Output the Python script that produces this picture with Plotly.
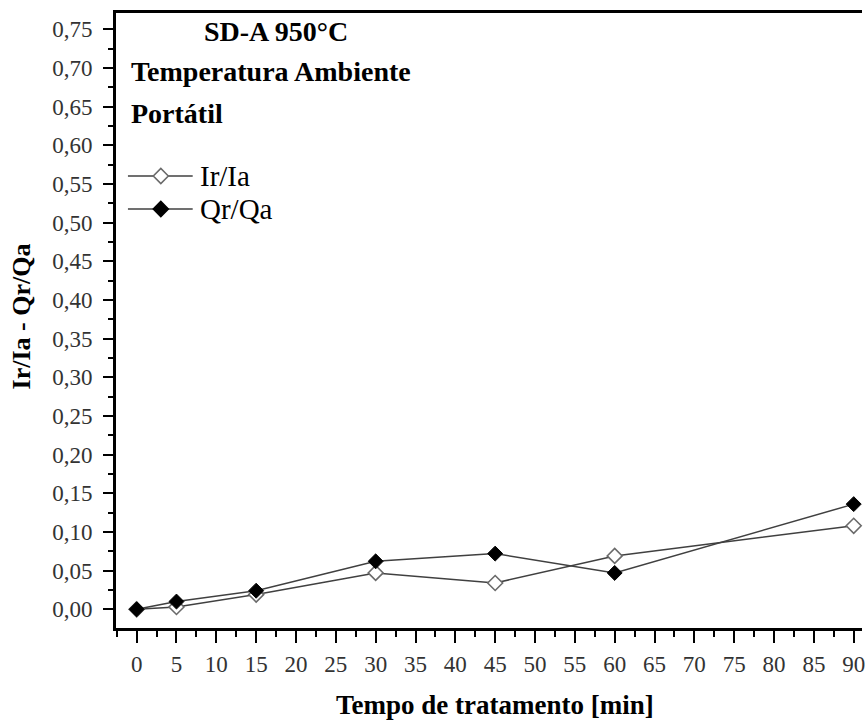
import plotly.graph_objects as go

# Treatment time [min] and measured ratios
tempo = [0, 5, 15, 30, 45, 60, 90]
ir_ia = [0.000, 0.003, 0.019, 0.047, 0.034, 0.069, 0.108]
qr_qa = [0.000, 0.010, 0.024, 0.062, 0.072, 0.047, 0.136]

x_ticks = [0, 5, 10, 15, 20, 25, 30, 35, 40, 45, 50, 55, 60, 65, 70, 75, 80, 85, 90]
y_ticks = [0.00, 0.05, 0.10, 0.15, 0.20, 0.25, 0.30, 0.35,
           0.40, 0.45, 0.50, 0.55, 0.60, 0.65, 0.70, 0.75]
y_tick_labels = ["0,00", "0,05", "0,10", "0,15", "0,20", "0,25", "0,30", "0,35",
                 "0,40", "0,45", "0,50", "0,55", "0,60", "0,65", "0,70", "0,75"]

W, H = 865, 722
L, R, T, B = 116, 0, 13, 94
PW, PH = W - L - R, H - T - B

FONT = "Liberation Serif"
LINE_COLOR = "#404040"


def xp(px):
    return (px - L) / PW


def yp(py):
    return (H - B - py) / PH


fig = go.Figure()

fig.add_trace(go.Scatter(
    x=tempo, y=ir_ia, mode="lines+markers", name="Ir/Ia",
    line=dict(color=LINE_COLOR, width=1.5),
    marker=dict(symbol="diamond", size=11.5, color="white",
                line=dict(color="#6a6a6a", width=1.6)),
    cliponaxis=False, showlegend=False,
))
fig.add_trace(go.Scatter(
    x=tempo, y=qr_qa, mode="lines+markers", name="Qr/Qa",
    line=dict(color=LINE_COLOR, width=1.5),
    marker=dict(symbol="diamond", size=11.5, color="black",
                line=dict(color="black", width=1)),
    cliponaxis=False, showlegend=False,
))

annotations = []


def add_text(text, px, py, size, xanchor="left", angle=0):
    annotations.append(dict(
        text=text, x=xp(px), y=yp(py), xref="paper", yref="paper",
        xanchor=xanchor, yanchor="middle", showarrow=False, textangle=angle,
        font=dict(family=FONT, size=size, color="black"),
    ))


add_text("<b>SD-A 950°C</b>", 277, 32, 28, xanchor="center")
add_text("<b>Temperatura Ambiente</b>", 129, 71, 28)
add_text("<b>Portátil</b>", 129, 114, 28)
add_text("<b>Tempo de tratamento [min]</b>", 497, 705, 27, xanchor="center")
add_text("<b>Ir/Ia - Qr/Qa</b>", 21, 316, 26, xanchor="center", angle=-90)

# Hand-built legend: line–marker–line sample followed by the label
shapes = []
legend_rows = [("Ir/Ia", 176, "white", "#6a6a6a"), ("Qr/Qa", 209, "black", "black")]
for label, py, fill, edge in legend_rows:
    shapes.append(dict(type="line", xref="paper", yref="paper",
                       x0=xp(128), x1=xp(193), y0=yp(py), y1=yp(py),
                       line=dict(color=LINE_COLOR, width=1.5)))
    r = 7.5
    shapes.append(dict(type="path", xref="paper", yref="paper",
                       xsizemode="pixel", ysizemode="pixel",
                       xanchor=xp(161), yanchor=yp(py),
                       path=f"M{r},0L0,{r}L-{r},0L0,-{r}Z",
                       fillcolor=fill, line=dict(color=edge, width=1.6)))
    add_text(label, 198, py, 29)

axis_common = dict(
    showline=True, linecolor="black", linewidth=2.6,
    ticks="outside", tickcolor="black", tickwidth=2.2,
    showgrid=False, zeroline=False,
    tickfont=dict(family=FONT, size=23, color="#333333"),
)

fig.update_layout(
    width=W, height=H,
    margin=dict(l=L, r=R, t=T, b=B),
    paper_bgcolor="white", plot_bgcolor="white",
    showlegend=False,
    annotations=annotations,
    shapes=shapes,
    xaxis=dict(
        range=[-2.59, 91.04], tickmode="array", tickvals=x_ticks,
        ticklen=12, mirror=True, ticklabelstandoff=2,
        ticklabeloverflow="allow",
        minor=dict(ticks="outside", ticklen=6, tickwidth=2, tickcolor="black",
                   tick0=0, dtick=2.5, showgrid=False),
        **axis_common,
    ),
    yaxis=dict(
        range=[-0.0242, 0.7711], tickmode="array", tickvals=y_ticks,
        ticktext=y_tick_labels, ticklen=10, ticklabelstandoff=6,
        minor=dict(ticks="outside", ticklen=5, tickwidth=2, tickcolor="black",
                   tick0=0, dtick=0.025, showgrid=False),
        **axis_common,
    ),
)

fig.write_html("out.html")
